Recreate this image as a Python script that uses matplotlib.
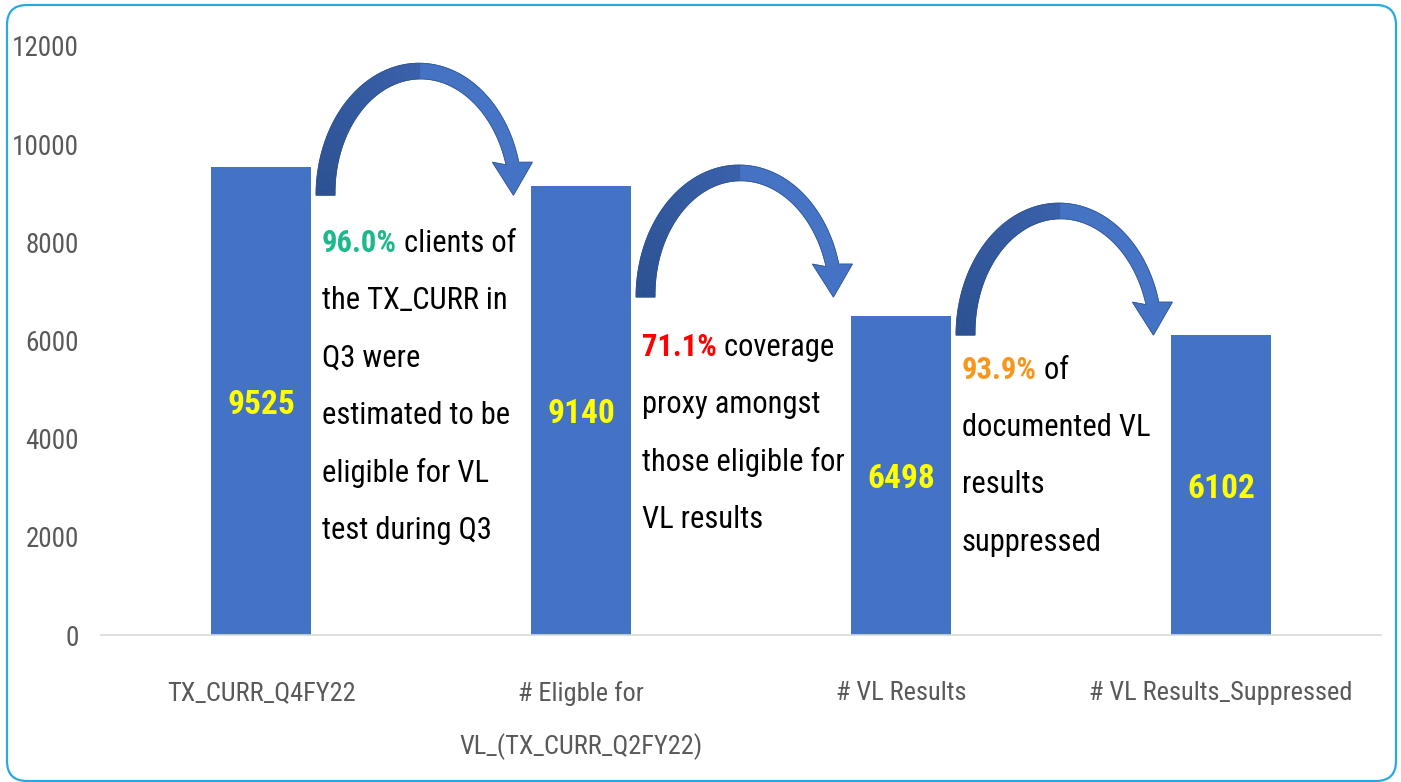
import numpy as np
import matplotlib.pyplot as plt
import matplotlib.transforms as mtransforms
from matplotlib.patches import Polygon, FancyBboxPatch

# data
categories = ["TX_CURR_Q4FY22", "# Eligble for\nVL_(TX_CURR_Q2FY22)", "# VL Results", "# VL Results_Suppressed"]
values = [9525, 9140, 6498, 6102]
pct_labels = ["96.0%", "71.1%", "93.9%"]
pct_colors = ["#1DB88B", "#FF0000", "#F7961E"]
note_first = [" clients of", " coverage", " of"]
note_rest = [
    ["the TX_CURR in", "Q3 were", "estimated to be", "eligible for VL", "test during Q3"],
    ["proxy amongst", "those eligible for", "VL results"],
    ["documented VL", "results", "suppressed"],
]
y_ticks = [0, 2000, 4000, 6000, 8000, 10000, 12000]

# layout (data units)
note_y = [7980, 5870, 5400]
arrow_base = [8960, 6885, 6110]

plt.rcParams['font.family'] = ['Roboto Condensed', 'Open Sans Condensed', 'DejaVu Sans']
plt.rcParams['font.stretch'] = 'condensed'

fig = plt.figure(figsize=(14.01, 7.82), dpi=100)
ax = fig.add_axes([101 / 1401, 147 / 782, 1280 / 1401, 589 / 782])

x = np.arange(len(values))
bw = 0.3125
ax.bar(x, values, width=bw, color="#4472C4", zorder=2)

for xi, v in zip(x, values):
    ax.text(xi, v / 2, f"{v}", ha='center', va='center_baseline', color='#FFFF00',
            fontsize=24, fontweight='bold', zorder=3)

ax.set_xlim(-0.5, len(values) - 0.5)
ax.set_ylim(0, 12000)
ax.set_yticks(y_ticks)
ax.set_yticklabels([str(t) for t in y_ticks])
ax.set_xticks(x)
ax.set_xticklabels(categories, linespacing=2.3)
ax.tick_params(axis='y', length=0, pad=16, labelsize=19.5, labelcolor='#595959')
ax.tick_params(axis='x', length=0, pad=33, labelsize=19, labelcolor='#595959')
for s in ['top', 'right', 'left']:
    ax.spines[s].set_visible(False)
ax.spines['bottom'].set_color('#D9D9D9')
ax.spines['bottom'].set_linewidth(1.2)

# annotations between bars
line_step = 41.4  # points
for i in range(len(pct_labels)):
    ax0 = i + 0.19
    t = ax.text(ax0, note_y[i], pct_labels[i], color=pct_colors[i], fontsize=22,
                fontweight='bold', ha='left', va='center', zorder=3)
    ax.annotate(note_first[i], xy=(1, 0), xycoords=t, ha='left', va='bottom',
                fontsize=22, color='black', zorder=3)
    for k, line in enumerate(note_rest[i]):
        ax.annotate(line, xy=(ax0, note_y[i]), xycoords='data',
                    xytext=(0, -(k + 1) * line_step), textcoords='offset points',
                    ha='left', va='center', fontsize=22, color='black', zorder=3)


def mix(c1, c2, f):
    c1 = np.array(plt.matplotlib.colors.to_rgb(c1))
    c2 = np.array(plt.matplotlib.colors.to_rgb(c2))
    return tuple(c1 + (c2 - c1) * f)


def curved_arrow(ax, x0, y0):
    # shape in pixels relative to tail outer-bottom corner
    s = fig.dpi / 100
    tr = mtransforms.Affine2D().scale(s) + mtransforms.ScaledTranslation(x0, y0, ax.transData)
    a, b, cx = 103.0, 132.0, 103.0
    th_end = np.arcsin(33 / b)
    th = np.linspace(np.pi, th_end, 121)
    t = np.interp(th, [th_end, np.pi], [13, 19])
    ox, oy = cx + a * np.cos(th), b * np.sin(th)
    nx, ny = np.cos(th) / a, np.sin(th) / b
    nn = np.hypot(nx, ny)
    ix, iy = ox - t * nx / nn, oy - t * ny / nn
    for j in range(len(th) - 1):
        f = j / (len(th) - 2)
        if th[j] > np.pi / 2:
            col = mix("#2C5193", "#3960AA", (np.pi - th[j]) / (np.pi / 2))
        else:
            col = mix("#4270C0", "#4674C6", f)
        quad = [(ox[j], oy[j]), (ox[j + 1], oy[j + 1]), (ix[j + 1], iy[j + 1]), (ix[j], iy[j])]
        ax.add_patch(Polygon(quad, closed=True, facecolor=col, edgecolor=col,
                             lw=0.6, transform=tr, zorder=4, clip_on=False))
    mx = (ox[-1] + ix[-1]) / 2
    head = [(ox[-1], oy[-1]), (mx + 20, 33), (mx + 1, 0), (mx - 20, 33), (ix[-1], iy[-1])]
    ax.add_patch(Polygon(head, closed=True, facecolor="#4472C4", edgecolor="#4472C4",
                         lw=0.6, transform=tr, zorder=4, clip_on=False))
    outline = list(zip(ox, oy)) + head[1:4] + list(zip(ix[::-1], iy[::-1]))
    ax.add_patch(Polygon(outline, closed=True, facecolor='none', edgecolor="#2F528F",
                         lw=0.6, alpha=0.8, transform=tr, zorder=5, clip_on=False))


for i in range(len(values) - 1):
    curved_arrow(ax, i + 0.172, arrow_base[i])

# rounded border
border = FancyBboxPatch((7, 1), 1389, 776, boxstyle="round,pad=0,rounding_size=20",
                        facecolor='none', edgecolor='#29A9E0', lw=1.6,
                        transform=mtransforms.Affine2D().scale(fig.dpi / 100))
fig.patches.append(border)

fig.savefig("out.png", dpi=100)
